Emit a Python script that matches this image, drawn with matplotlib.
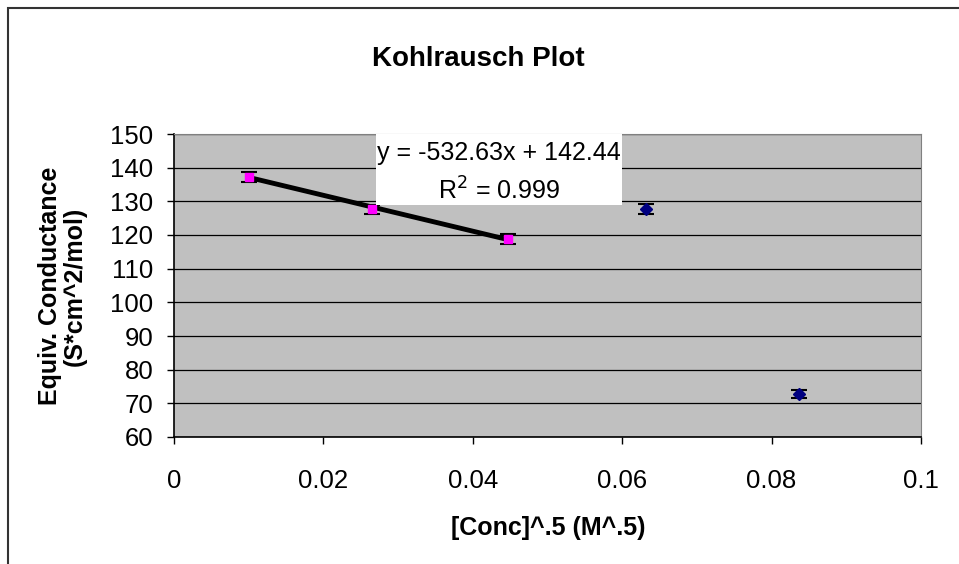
import matplotlib
matplotlib.use("Agg")
import matplotlib.pyplot as plt
from matplotlib.patches import Rectangle

plt.rcParams['font.family'] = ['Liberation Sans', 'DejaVu Sans']

# fitted series (magenta)
x_fit = [0.01, 0.02646, 0.04472]
y_fit = [137.3, 127.6, 118.8]
err_fit = [1.5, 1.3, 1.4]

# remaining points (blue)
x_other = [0.06325, 0.08367]
y_other = [127.6, 72.8]
err_other = [1.5, 1.1]

slope, intercept = -532.63, 142.44
eq_text = "y = -532.63x + 142.44"
r2_text = "R$^2$ = 0.999"

xticks = [0, 0.02, 0.04, 0.06, 0.08, 0.1]
xtick_labels = ["0", "0.02", "0.04", "0.06", "0.08", "0.1"]
yticks = list(range(60, 151, 10))

fig = plt.figure(figsize=(9.59, 5.64), dpi=100)
fig.patches.append(Rectangle((8 / 959, -0.1), 1.2, 1.1 - 8 / 564,
                             transform=fig.transFigure, fill=False,
                             edgecolor='#333333', linewidth=1.5))
ax = fig.add_axes([174 / 959, 1 - 437 / 564, (921 - 174) / 959, (437 - 134) / 564])
ax.set_facecolor('#C0C0C0')

ax.set_xlim(0, 0.1)
ax.set_ylim(60, 150)
ax.set_xticks(xticks)
ax.set_xticklabels(xtick_labels)
ax.set_yticks(yticks)
ax.grid(axis='y', color='black', linewidth=0.9)
ax.set_axisbelow(True)
ax.tick_params(axis='both', labelsize=18.5, length=5, width=1, direction='out', color='black')
ax.tick_params(axis='x', pad=18)
ax.tick_params(axis='y', pad=10)
for s in ['top', 'right']:
    ax.spines[s].set_color('#808080')
for s in ['left', 'bottom']:
    ax.spines[s].set_color('black')
    ax.spines[s].set_linewidth(1.2)

# trend line
xl = [x_fit[0], x_fit[-1]]
ax.plot(xl, [slope * v + intercept for v in xl], color='black', linewidth=3.5, zorder=3)

ax.errorbar(x_fit, y_fit, yerr=err_fit, fmt='s', color='#FF00FF', markersize=6,
            ecolor='black', elinewidth=1, capsize=6, capthick=1.5, zorder=4)
ax.errorbar(x_other, y_other, yerr=err_other, fmt='D', color='#000080', markersize=6,
            ecolor='black', elinewidth=1, capsize=6, capthick=1.5, zorder=4)

# label box
ax.add_patch(Rectangle((0.0270, 128.9), 0.0330, 21.1, facecolor='white',
                       edgecolor='none', zorder=5))
ax.text(0.0435, 144.4, eq_text, ha='center', va='center', fontsize=18, zorder=6)
ax.text(0.0435, 133.1, r2_text, ha='center', va='center', fontsize=18, zorder=6)

fig.text(478 / 959, 1 - 59 / 564, "Kohlrausch Plot", ha='center', va='center',
         fontsize=20, fontweight='bold')
fig.text(548 / 959, 1 - 528 / 564, "[Conc]^.5 (M^.5)", ha='center', va='center',
         fontsize=18, fontweight='bold')
fig.text(62 / 959, 1 - 286 / 564, "Equiv. Conductance\n(S*cm^2/mol)", ha='center',
         va='center', rotation=90, fontsize=18, fontweight='bold', linespacing=1.05)

fig.savefig("out.png", dpi=100)
